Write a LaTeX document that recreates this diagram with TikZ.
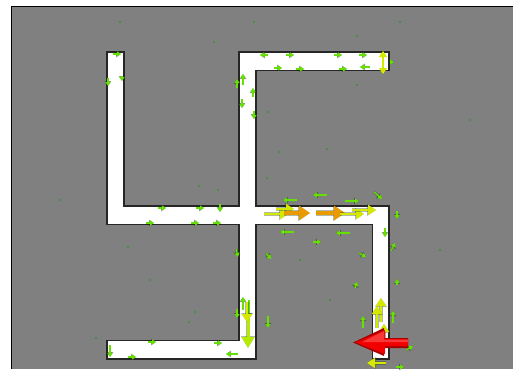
\documentclass[tikz,border=0pt]{standalone}
\usetikzlibrary{arrows.meta}
\definecolor{bg}{HTML}{808080}
\definecolor{grn}{HTML}{66E000}
\definecolor{ylw}{HTML}{D4E800}
\definecolor{org}{HTML}{E89A00}
\definecolor{dk}{HTML}{1E3A10}
\tikzset{
  ga/.style={grn, line width=1.3pt, -{Triangle[length=4pt,width=5pt]},
    preaction={draw=dk, opacity=0.45, line width=2.2pt, -{Triangle[length=5pt,width=6.5pt]}}},
  ya/.style={ylw, line width=2.6pt, -{Triangle[length=8pt,width=10pt]},
    preaction={draw=dk, opacity=0.35, line width=3.4pt, -{Triangle[length=9pt,width=11.5pt]}}},
  yb/.style={ylw!85!green, line width=3pt, -{Triangle[length=11pt,width=12pt]},
    preaction={draw=dk, opacity=0.35, line width=3.8pt, -{Triangle[length=12pt,width=13.5pt]}}},
  oa/.style={org, line width=4.5pt, -{Triangle[length=11pt,width=14pt]},
    preaction={draw=dk, opacity=0.35, line width=5.3pt, -{Triangle[length=12pt,width=15.5pt]}}},
}
\begin{document}
\begin{tikzpicture}[x=1pt,y=-1pt]
\useasboundingbox (0,0) rectangle (513,369);
\fill[white] (0,0) rectangle (513,369);
\fill[bg] (11,7) rectangle (513,369);
\draw[black, line width=1pt] (11,369) -- (11,7) -- (513,7);
% corridor shape
\filldraw[fill=white, draw=black!85, line width=1.1pt]
 (239,52) -- (389,52) -- (389,70.7) -- (256,70.7) -- (256,206) -- (389,206)
 -- (389,359) -- (372.7,359) -- (372.7,224.3) -- (256,224.3) -- (256,359)
 -- (107,359) -- (107,340.3) -- (239,340.3) -- (239,224.3) -- (107,224.3)
 -- (107,52) -- (124,52) -- (124,206) -- (239,206) -- cycle;
% dots
\foreach \p in {(120,22),(254,22),(400,22),(214,42),(357,36),(268,112),(279,152),(327,149),(267,178),(199,186),(218,190),(128,247),(195,312),(96,338),(189,322),(357,85),(300,260),(330,300),(440,250),(470,120),(60,200),(150,280)}
  \fill[dk!50!green] \p circle (0.8pt);
% small green arrows, top arm
\draw[ga] (268,55) -- (260,55);
\draw[ga] (286,55) -- (294,55);
\draw[ga] (334,55) -- (342,55);
\draw[ga] (359,55) -- (367,55);
\draw[ga] (274,68) -- (282,68);
\draw[ga] (296,69) -- (304,69);
\draw[ga] (339,69) -- (347,69);
\draw[ga] (370,67) -- (360,67);
% central vertical upper part
\draw[ga] (243,85) -- (243,74);
\draw[ga] (237,88) -- (237,79);
\draw[ga] (253,97) -- (253,88);
\draw[ga] (242,99) -- (242,108);
\draw[ga] (254,111) -- (254,119);
% left arm
\draw[ga] (113,54) -- (121,54);
\draw[ga] (108,78) -- (108,86);
\draw[ga] (122,76) -- (122,81);
% horizontal bar left part
\draw[ga] (158,208) -- (166,208);
\draw[ga] (196,208) -- (204,208);
\draw[ga] (220,204) -- (220,212);
\draw[ga] (146,223) -- (154,223);
\draw[ga] (191,223) -- (199,223);
\draw[ga] (213,223) -- (221,223);
% around right part of the cross
\draw[ga] (297,200) -- (283,200);
\draw[ga] (327,195) -- (313,195);
\draw[ga] (345,201) -- (359,201);
\draw[ga] (374,192) -- (382,199);
\draw[ga] (294,232) -- (280,232);
\draw[ga] (350,233) -- (336,233);
\draw[ga] (313,242) -- (321,242);
\draw[ga] (397,211) -- (397,219);
\draw[ga] (385,228) -- (385,237);
\draw[ga] (391,251) -- (395,243);
\draw[ga] (236,249) -- (238,257);
\draw[ga] (266,253) -- (271,259);
\draw[ga] (359,253) -- (366,257);
% yellow/orange arrows along the bar
\draw[ya] (264,214) -- (288,214);
\draw[ya] (276,209) -- (294,209);
\draw[oa] (284,213) -- (310,213);
\draw[oa] (316,213) -- (345,213);
\draw[ya] (340,214) -- (364,214);
\draw[ya] (352,210) -- (376,210);
% lower central vertical
\draw[ga] (243,310) -- (243,297);
\draw[ga] (237,309) -- (237,318);
\draw[ga] (268,316) -- (268,328);
\draw[ga] (249,300) -- (249,318);
\draw[yb] (248,316) -- (248,348);
\draw[ya] (247,302) -- (247,322);
% bottom arm
\draw[ga] (238,354) -- (226,354);
\draw[ga] (110,345) -- (110,357);
\draw[ga] (128,357) -- (136,357);
\draw[ga] (148,342) -- (156,342);
\draw[ga] (214,343) -- (222,343);
% right arm and red arrow
\draw[ga] (363,328) -- (363,316);
\draw[ga] (393,323) -- (393,311);
\draw[ga] (355,288) -- (357,282);
\draw[ga] (397,285) -- (397,279);
\draw[ga] (406,350) -- (413,346);
\draw[ga] (396,367) -- (404,367);
\draw[ya] (381,322) -- (381,298);
\draw[ya] (377,328) -- (377,306);
\draw[ya] (384,340) -- (384,324);
\fill[red!65!black] (408,338) -- (384,338) -- (384,328) -- (353,342.5) -- (384,356) -- (384,348) -- (408,348) -- cycle;
\fill[red!95!black] (408,339) -- (385,339) -- (385,330) -- (356,342.5) -- (385,354) -- (385,346) -- (408,346) -- cycle;
\fill[red!60!white, opacity=0.55] (408,339.5) -- (384,339.5) -- (384,331) -- (362,342) -- (384,342) -- (408,342) -- cycle;
\draw[ya] (386,363) -- (367,363);
% top right yellow
\draw[ylw, line width=2.6pt, {Triangle[length=6pt,width=8pt]}-{Triangle[length=6pt,width=8pt]}] (383,51) -- (383,74);
\draw[ga] (390,62) -- (394,62);
\end{tikzpicture}
\end{document}
